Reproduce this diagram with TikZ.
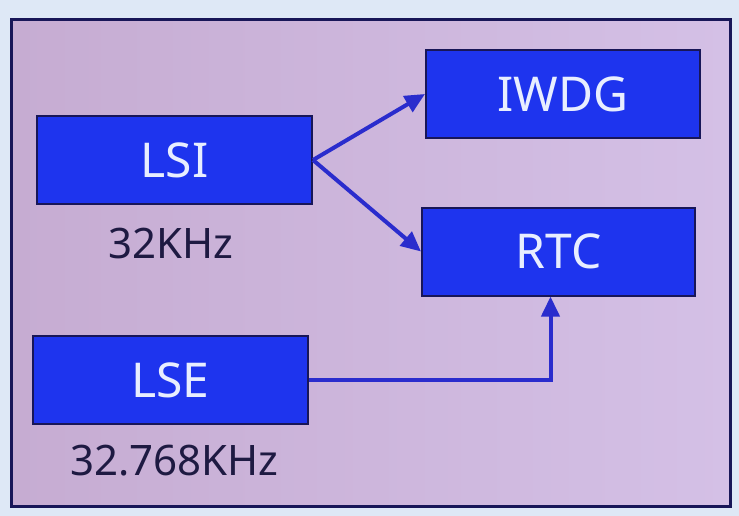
\documentclass[tikz,border=0pt]{standalone}
\usepackage{fontspec}
\setmainfont{Noto Sans}
\usetikzlibrary{arrows.meta,positioning}
\definecolor{navy}{RGB}{24,22,88}
\definecolor{boxblue}{RGB}{30,52,238}
\definecolor{lineblue}{RGB}{42,44,205}
\definecolor{lavleft}{RGB}{198,172,210}
\definecolor{lavright}{RGB}{212,192,230}
\definecolor{paleblue}{RGB}{222,232,246}
\definecolor{boxtext}{RGB}{232,238,255}
\definecolor{freqtext}{RGB}{30,26,66}

\begin{document}
\begin{tikzpicture}[x=1pt,y=-1pt,>=Latex,node distance=20pt and 20pt,
 clk/.style={draw=navy,line width=2pt,fill=boxblue,minimum width=275pt,minimum height=88pt,
  text=boxtext,font=\fontsize{48}{50}\selectfont},
 freq/.style={inner sep=0pt,text=freqtext,font=\fontsize{42}{44}\selectfont},
 arr/.style={-{Triangle[length=20pt,width=18pt]},line width=4pt,draw=lineblue}]
\path[use as bounding box,fill=paleblue] (0,0) rectangle (739,516);
\draw[navy,line width=3pt,left color=lavleft,right color=lavright] (11,20) rectangle (730,506);
\node[clk] (LSI) at (174.5,160) {LSI};
\node[clk,minimum width=274pt] (IWDG) at (563,94) {IWDG};
\node[clk,minimum width=273pt] (RTC) at (558.5,251.5) {RTC};
\node[clk,below=130pt of LSI,xshift=-4pt] (LSE) {LSE};
\node[freq,below=23pt of LSI,xshift=-4pt] (lsifreq) {32KHz};
\node[freq,below=20pt of LSE,xshift=4pt] (lsefreq) {32.768KHz};
\draw[arr] (LSI.east)--(IWDG.west);
\draw[arr] (LSI.east)--(RTC.west);
\draw[arr] (LSE.east) -| ([xshift=-8pt]RTC.south);
\end{tikzpicture}
\end{document}
